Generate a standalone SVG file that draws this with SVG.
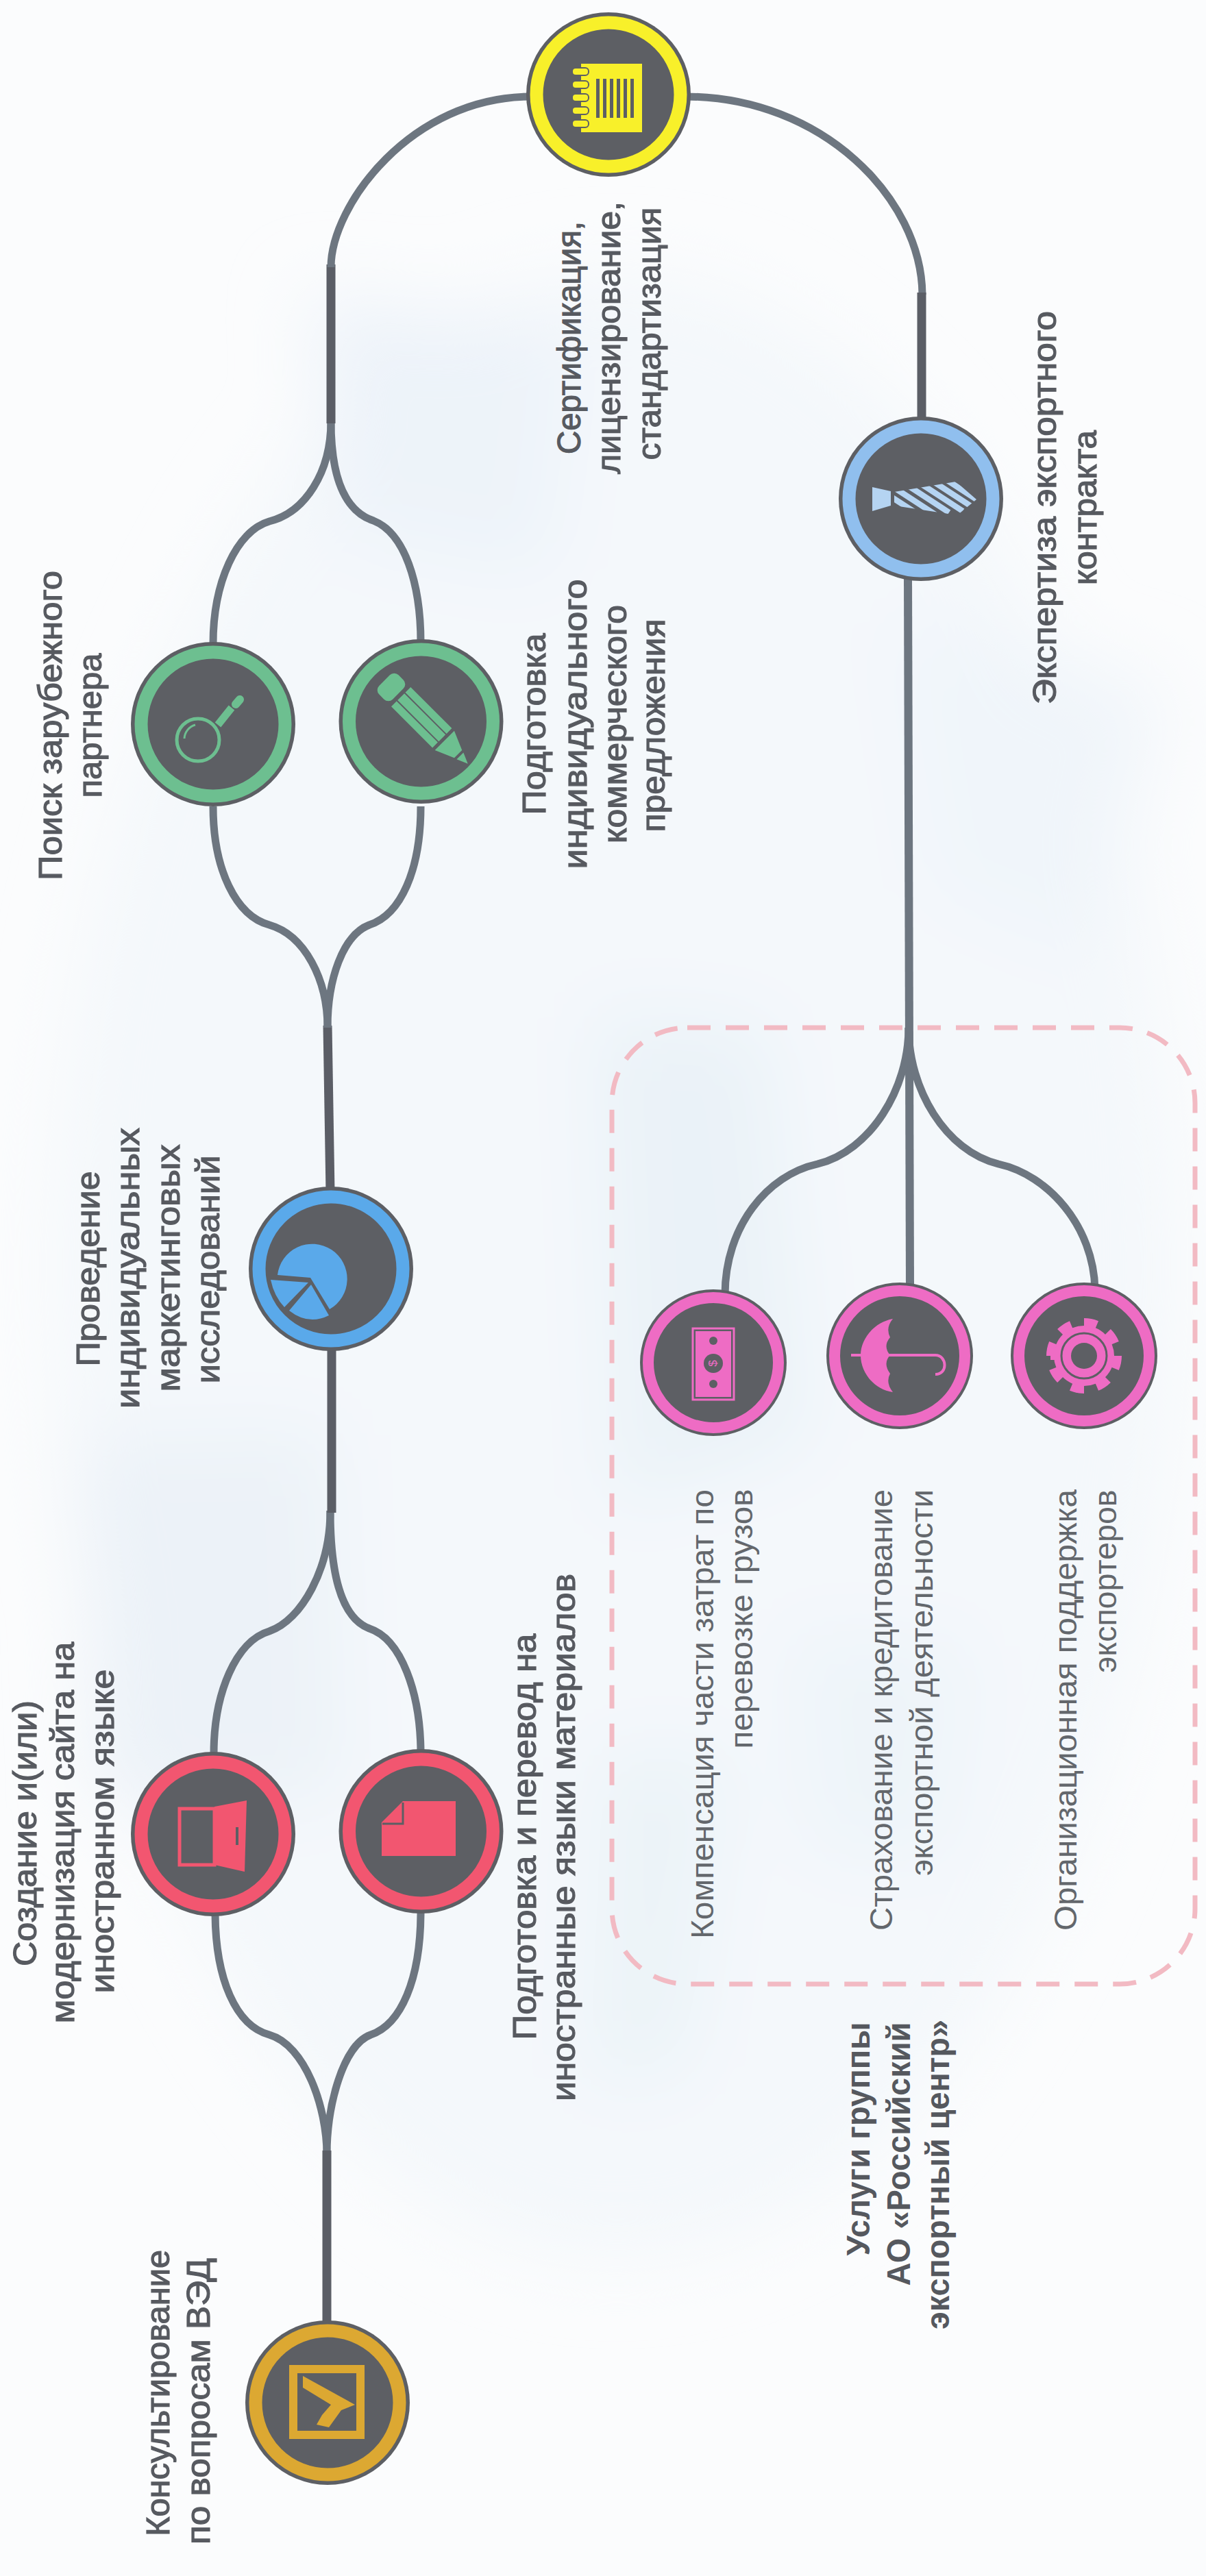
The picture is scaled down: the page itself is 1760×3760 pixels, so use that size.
<svg xmlns="http://www.w3.org/2000/svg" width="1760" height="3760" viewBox="0 0 1760 3760">
<style>
.o{fill:#5d5f64}
.ring{fill:none;stroke-width:19}
.pr{fill:none;stroke-width:16}
.cv{fill:none;stroke:#6d7680;stroke-width:11;stroke-linecap:butt}
.dk{fill:none;stroke:#5b5e66;stroke-width:13}
text{font-family:"Liberation Sans",Arial,sans-serif;font-size:48px;text-anchor:middle;fill:#575a60;stroke:#575a60;stroke-width:1.2}
text.l{font-size:47px;fill:#63676c;stroke:none}
text.b{font-weight:bold;stroke:none;fill:#55585e}
</style>
<defs>
<filter id="bl" x="-40%" y="-40%" width="180%" height="180%"><feGaussianBlur stdDeviation="55"/></filter>
<clipPath id="tieclip"><polygon points="1305,718 1395,703 1425,729 1397,752 1305,738"/></clipPath>
</defs>
<g id="background">
<rect width="1760" height="3760" fill="#fbfcfd"/>
<g filter="url(#bl)">
<ellipse cx="900" cy="1850" rx="820" ry="1450" fill="#f4f8fb"/>
<polygon points="450,430 840,480 800,840 500,780" fill="#edf3f9"/>
<polygon points="870,1480 1120,1500 1180,2100 900,2200" fill="#eaf2f8"/>
<polygon points="120,2100 480,2090 500,2620 140,2640" fill="#ecf2f8"/>
<polygon points="880,2560 1060,2560 1000,3020 860,3040" fill="#ebf3f8"/>
<polygon points="1150,2380 1420,2400 1380,2720 1180,2700" fill="#eef4f9"/>
<polygon points="1300,900 1700,1000 1600,1400 1360,1300" fill="#f0f5fa"/>
</g>
</g>
<rect id="services-frame" x="893" y="1500" width="851" height="1396" rx="110" fill="none" stroke="#f2bac3" stroke-width="7" stroke-dasharray="34 22"/>
<g id="connectors">
<path class="cv" d="M477,3145 C477,3075 445,2985 393,2970 C345,2957 314,2890 314,2790"/>
<path class="cv" d="M477,3145 C477,3075 500,2985 541,2970 C585,2955 614,2890 614,2790"/>
<path class="dk" d="M477,3139 V3395"/>
<path class="cv" d="M482,2205 C482,2290 440,2365 393,2381 C345,2395 312,2470 312,2560"/>
<path class="cv" d="M482,2205 C482,2290 495,2360 539,2377 C585,2392 614,2470 614,2560"/>
<path class="dk" d="M484,2208 V1960"/>
<path class="dk" d="M482,1740 L478,1497"/>
<path class="cv" d="M478,1500 C478,1430 445,1365 393,1350 C345,1337 311,1270 311,1177"/>
<path class="cv" d="M478,1500 C478,1430 500,1365 539,1350 C585,1335 614,1270 614,1177"/>
<path class="cv" d="M483,615 C483,690 445,748 393,761 C345,775 311,850 311,940"/>
<path class="cv" d="M483,615 C483,690 500,745 545,760 C590,778 614,850 614,938"/>
<path class="dk" d="M483,618 V386"/>
<path class="cv" d="M483,390 C483,300 600,141 775,141"/>
<path class="cv" d="M1000,141 C1200,141 1345,290 1346,430"/>
<path class="dk" d="M1345,427 V612"/>
<path class="cv" style="stroke-width:12" d="M1325,845 L1328,1880"/>
<path class="cv" d="M1326,1500 C1326,1590 1270,1680 1193,1699 C1120,1715 1058,1790 1058,1890"/>
<path class="cv" d="M1326,1500 C1326,1590 1380,1680 1457,1699 C1530,1715 1596,1790 1598,1882"/>
</g>
<g id="node-consult">
<circle class="o" cx="478" cy="3507" r="120"/>
<circle class="ring" cx="478" cy="3507" r="105" stroke="#dca832"/>
<rect x="428" y="3458" width="98" height="96" fill="none" stroke="#dca832" stroke-width="12"/>
<polygon fill="#dca832" points="442,3468 518,3510 498,3518 480,3543 462,3539 470,3525 483,3510 442,3485"/>
<text transform="translate(247 3493) rotate(-90)" textLength="418" lengthAdjust="spacingAndGlyphs">Консультирование</text>
<text transform="translate(306 3505) rotate(-90)" textLength="418" lengthAdjust="spacingAndGlyphs">по вопросам ВЭД</text>
</g>
<g id="node-site">
<circle class="o" cx="311" cy="2677" r="120"/>
<circle class="ring" cx="311" cy="2677" r="105" stroke="#f25670"/>
<rect x="262" y="2640" width="51" height="82" fill="none" stroke="#f25670" stroke-width="5"/>
<polygon fill="#f25670" points="313,2637 360,2628 357,2732 313,2722"/>
<rect x="344" y="2667" width="4" height="26" fill="#5d5f64"/>
<text transform="translate(53 2676) rotate(-90)" textLength="388" lengthAdjust="spacingAndGlyphs">Создание и(или)</text>
<text transform="translate(108 2675) rotate(-90)" textLength="557" lengthAdjust="spacingAndGlyphs">модернизация сайта на</text>
<text transform="translate(166 2673) rotate(-90)" textLength="473" lengthAdjust="spacingAndGlyphs">иностранном языке</text>
</g>
<g id="node-translate">
<circle class="o" cx="614.5" cy="2673" r="120"/>
<circle class="ring" cx="614.5" cy="2673" r="105" stroke="#f25670"/>
<polygon fill="#f25670" points="588,2629 665,2629 665,2709 557,2709 557,2660"/>
<polyline fill="none" stroke="#5d5f64" stroke-width="3" points="588,2631 588,2662 558,2662"/>
<text transform="translate(782 2681) rotate(-90)" textLength="593" lengthAdjust="spacingAndGlyphs">Подготовка и перевод на</text>
<text transform="translate(839 2682) rotate(-90)" textLength="770" lengthAdjust="spacingAndGlyphs">иностранные языки материалов</text>
</g>
<g id="node-research">
<circle class="o" cx="483" cy="1852" r="120"/>
<circle class="ring" cx="483" cy="1852" r="105" stroke="#5aa9ea"/>
<g fill="#5aa9ea">
<path d="M405,1861 A51,51 0 1 1 481,1911 L453,1865 Z"/>
<path d="M395,1868 L450,1872 L415,1908 Q400,1892 395,1868 Z"/>
<path d="M454,1875 L480,1920 Q450,1935 422,1913 Z"/>
</g>
<text transform="translate(145 1852) rotate(-90)" textLength="285" lengthAdjust="spacingAndGlyphs">Проведение</text>
<text transform="translate(203 1851) rotate(-90)" textLength="410" lengthAdjust="spacingAndGlyphs">индивидуальных</text>
<text transform="translate(262 1851) rotate(-90)" textLength="361" lengthAdjust="spacingAndGlyphs">маркетинговых</text>
<text transform="translate(320 1853) rotate(-90)" textLength="333" lengthAdjust="spacingAndGlyphs">исследований</text>
</g>
<g id="node-partner">
<circle class="o" cx="311" cy="1057" r="120"/>
<circle class="ring" cx="311" cy="1057" r="105" stroke="#6dbf90"/>
<g fill="none" stroke="#6dbf90">
<circle cx="289" cy="1080" r="31" stroke-width="5"/>
<path d="M269,1078 A22,22 0 0 1 285,1058" stroke-width="3"/>
<path d="M318,1058 L338,1033" stroke-width="11"/>
<path d="M344,1028 L350,1021" stroke-width="12" stroke-linecap="round"/>
</g>
<text transform="translate(90 1059) rotate(-90)" textLength="452" lengthAdjust="spacingAndGlyphs">Поиск зарубежного</text>
<text transform="translate(148 1059) rotate(-90)" textLength="211" lengthAdjust="spacingAndGlyphs">партнера</text>
</g>
<g id="node-offer">
<circle class="o" cx="614.5" cy="1053" r="120"/>
<circle class="ring" cx="614.5" cy="1053" r="105" stroke="#6dbf90"/>
<g fill="#6dbf90" transform="translate(571 1003) rotate(45)">
<rect x="-14" y="-20" width="28" height="40" rx="9"/>
<rect x="20" y="-20" width="85" height="11"/>
<rect x="20" y="-7" width="85" height="14"/>
<rect x="20" y="9" width="85" height="11"/>
<polygon points="110,-20 110,20 138,8 138,-8"/>
<polygon points="142,-7 142,7 158,0"/>
</g>
<text transform="translate(796 1057) rotate(-90)" textLength="265" lengthAdjust="spacingAndGlyphs">Подготовка</text>
<text transform="translate(856 1057) rotate(-90)" textLength="423" lengthAdjust="spacingAndGlyphs">индивидуального</text>
<text transform="translate(914 1057) rotate(-90)" textLength="348" lengthAdjust="spacingAndGlyphs">коммерческого</text>
<text transform="translate(970 1059) rotate(-90)" textLength="311" lengthAdjust="spacingAndGlyphs">предложения</text>
</g>
<g id="node-cert">
<circle class="o" cx="888" cy="138" r="120"/>
<circle class="ring" cx="888" cy="138" r="105" stroke="#f8f02a"/>
<rect x="848" y="93" width="89" height="100" fill="#f8f02a"/>
<g fill="#5d5f64">
<rect x="870" y="115" width="5" height="57"/><rect x="880" y="115" width="5" height="57"/><rect x="890" y="115" width="5" height="57"/><rect x="900" y="115" width="5" height="57"/><rect x="910" y="115" width="5" height="57"/><rect x="920" y="115" width="5" height="57"/>
</g>
<g fill="#f8f02a" stroke="#5d5f64" stroke-width="2">
<rect x="835" y="99" width="24" height="11" rx="5"/><rect x="835" y="118" width="24" height="11" rx="5"/><rect x="835" y="137" width="24" height="11" rx="5"/><rect x="835" y="156" width="24" height="11" rx="5"/><rect x="835" y="175" width="24" height="11" rx="5"/>
</g>
<text transform="translate(847 493) rotate(-90)" textLength="340" lengthAdjust="spacingAndGlyphs">Сертификация,</text>
<text transform="translate(905 493) rotate(-90)" textLength="398" lengthAdjust="spacingAndGlyphs">лицензирование,</text>
<text transform="translate(964 487) rotate(-90)" textLength="369" lengthAdjust="spacingAndGlyphs">стандартизация</text>
</g>
<g id="node-contract">
<circle class="o" cx="1344" cy="728" r="120"/>
<circle class="ring" cx="1344" cy="728" r="105" stroke="#90bfee"/>
<polygon fill="#b5d4f2" points="1273,711 1300,717 1300,738 1273,746"/>
<g clip-path="url(#tieclip)" stroke="#b5d4f2" stroke-width="8.5" fill="none">
<path d="M1280,712 L1342,752"/><path d="M1293,704 L1365,751"/><path d="M1313,701 L1385,748"/><path d="M1333,699 L1405,746"/><path d="M1353,697 L1425,744"/><path d="M1373,695 L1445,742"/>
</g>
<text transform="translate(1541 741) rotate(-90)" textLength="574" lengthAdjust="spacingAndGlyphs">Экспертиза экспортного</text>
<text transform="translate(1600 741) rotate(-90)" textLength="226" lengthAdjust="spacingAndGlyphs">контракта</text>
</g>
<g id="node-freight">
<circle class="o" cx="1041" cy="1989" r="107"/>
<circle class="pr" cx="1041" cy="1989" r="95" stroke="#ee6cc4"/>
<rect x="1011" y="1939" width="60" height="104" fill="none" stroke="#ee6cc4" stroke-width="3"/>
<rect x="1015" y="1943" width="52" height="96" fill="#ee6cc4"/>
<circle cx="1041" cy="1957" r="6" fill="#5d5f64"/>
<circle cx="1041" cy="2020" r="6" fill="#5d5f64"/>
<circle cx="1041" cy="1990" r="14" fill="#5d5f64"/>
<text transform="translate(1046 1990) rotate(-90)" style="font-size:17px;fill:#ee6cc4;stroke:none">$</text>
<text class="l" transform="translate(1041 2502) rotate(-90)" textLength="656" lengthAdjust="spacingAndGlyphs">Компенсация части затрат по</text>
<text class="l" transform="translate(1098 2363) rotate(-90)" textLength="379" lengthAdjust="spacingAndGlyphs">перевозке грузов</text>
</g>
<g id="node-insurance">
<circle class="o" cx="1313" cy="1979" r="107"/>
<circle class="pr" cx="1313" cy="1979" r="95" stroke="#ee6cc4"/>
<path fill="#ee6cc4" d="M1303,1925 C1275,1930 1256,1955 1256,1978 C1256,2003 1275,2028 1303,2032 Q1292,2018 1299,2005 Q1288,1990 1299,1978 Q1288,1965 1299,1952 Q1292,1938 1303,1925 Z"/>
<path fill="none" stroke="#ee6cc4" stroke-width="4" d="M1242,1978 H1365 C1382,1978 1384,2006 1365,2006"/>
<text class="l" transform="translate(1302 2496) rotate(-90)" textLength="644" lengthAdjust="spacingAndGlyphs">Страхование и кредитование</text>
<text class="l" transform="translate(1361 2456) rotate(-90)" textLength="564" lengthAdjust="spacingAndGlyphs">экспортной деятельности</text>
</g>
<g id="node-support">
<circle class="o" cx="1582" cy="1979" r="107"/>
<circle class="pr" cx="1582" cy="1979" r="95" stroke="#ee6cc4"/>
<circle cx="1582" cy="1979" r="44" fill="#ee6cc4"/>
<circle cx="1582" cy="1979" r="49" fill="none" stroke="#ee6cc4" stroke-width="12" pathLength="16" stroke-dasharray="1 1"/>
<circle cx="1582" cy="1979" r="33" fill="none" stroke="#5d5f64" stroke-width="3"/>
<circle cx="1582" cy="1979" r="19" fill="#5d5f64"/>
<text class="l" transform="translate(1571 2496) rotate(-90)" textLength="644" lengthAdjust="spacingAndGlyphs">Организационная поддержка</text>
<text class="l" transform="translate(1629 2308) rotate(-90)" textLength="267" lengthAdjust="spacingAndGlyphs">экспортеров</text>
</g>
<g id="caption">
<text class="b" transform="translate(1269 3122) rotate(-90)" textLength="341" lengthAdjust="spacingAndGlyphs">Услуги группы</text>
<text class="b" transform="translate(1328 3144) rotate(-90)" textLength="385" lengthAdjust="spacingAndGlyphs">АО «Российский</text>
<text class="b" transform="translate(1385 3174) rotate(-90)" textLength="452" lengthAdjust="spacingAndGlyphs">экспортный центр»</text>
</g>
</svg>
